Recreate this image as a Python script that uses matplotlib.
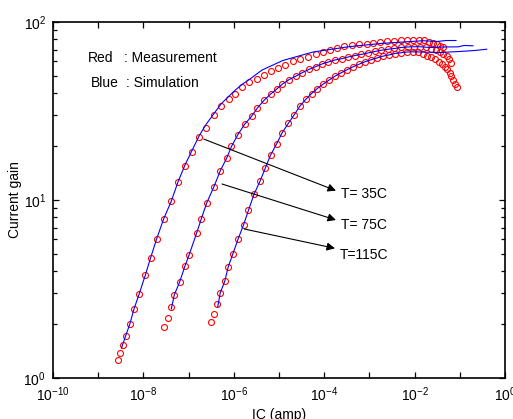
import matplotlib
matplotlib.use("Agg")
import matplotlib.pyplot as plt
from matplotlib.ticker import FixedLocator, FuncFormatter, LogLocator, NullFormatter
import numpy as np

plt.rcParams['font.family'] = ['Liberation Sans', 'DejaVu Sans']
plt.rcParams['mathtext.fontset'] = 'custom'
plt.rcParams['mathtext.rm'] = 'Liberation Sans'
plt.rcParams['mathtext.it'] = 'Liberation Sans'
plt.rcParams['mathtext.default'] = 'regular'
plt.rcParams['font.size'] = 10

# T = 35C  measurement (red circles)
ic_35 = [2.74e-9, 3.08e-9, 3.45e-9, 4.06e-9, 5.0e-9, 6.14e-9, 8.07e-9, 1.10e-8, 1.45e-8,
         1.97e-8, 2.82e-8, 4.14e-8, 5.82e-8, 8.32e-8, 1.19e-7, 1.73e-7, 2.39e-7, 3.65e-7,
         5.21e-7, 7.71e-7, 1.05e-6, 1.53e-6, 2.22e-6, 3.26e-6, 4.77e-6, 6.82e-6, 9.75e-6,
         1.39e-5, 2.04e-5, 2.99e-5, 4.39e-5, 6.43e-5, 9.40e-5, 1.34e-4, 1.95e-4, 2.81e-4,
         4.06e-4, 5.89e-4, 8.63e-4, 1.23e-3, 1.76e-3, 2.51e-3, 3.50e-3, 4.88e-3, 6.79e-3,
         9.23e-3, 1.25e-2, 1.61e-2, 2.09e-2, 2.55e-2, 3.13e-2, 3.74e-2, 4.35e-2]
gain_35 = [1.27, 1.373, 1.527, 1.728, 2.005, 2.426, 2.965, 3.776, 4.75,
           6.06, 7.85, 9.85, 12.57, 15.58, 18.6, 22.5, 25.5, 29.9,
           33.7, 37.0, 39.6, 42.9, 45.8, 48.0, 50.7, 53.0, 55.5,
           57.7, 60.0, 61.7, 63.8, 66.1, 67.8, 69.8, 71.7, 73.0,
           74.0, 74.8, 75.7, 76.5, 77.2, 78.0, 78.5, 79.0, 79.4,
           79.7, 79.7, 78.9, 77.7, 76.2, 74.8, 73.3, 71.9]

# T = 75C  measurement
ic_75 = [2.86e-8, 3.54e-8, 4.14e-8, 4.83e-8, 6.30e-8, 8.32e-8, 1.02e-7, 1.50e-7, 1.91e-7,
         2.53e-7, 3.65e-7, 5.02e-7, 6.97e-7, 8.89e-7, 1.22e-6, 1.73e-6, 2.49e-6, 3.34e-6,
         4.66e-6, 6.49e-6, 8.81e-6, 1.19e-5, 1.66e-5, 2.38e-5, 3.31e-5, 4.61e-5, 6.43e-5,
         8.93e-5, 1.24e-4, 1.73e-4, 2.44e-4, 3.41e-4, 4.80e-4, 6.68e-4, 9.31e-4, 1.33e-3,
         1.85e-3, 2.58e-3, 3.59e-3, 5.0e-3, 6.97e-3, 9.71e-3, 1.32e-2, 1.79e-2, 2.31e-2,
         2.97e-2, 3.65e-2, 4.35e-2, 5.08e-2, 5.77e-2, 6.38e-2]
gain_75 = [1.93, 2.18, 2.50, 2.93, 3.45, 4.26, 4.89, 6.50, 7.84,
           9.66, 11.9, 14.6, 17.2, 20.0, 23.2, 26.6, 29.6, 32.9,
           36.3, 39.3, 41.9, 44.8, 47.4, 49.7, 52.0, 54.2, 56.1,
           58.1, 59.6, 61.2, 62.2, 63.6, 64.8, 65.8, 67.0, 68.3,
           69.4, 70.3, 71.0, 71.9, 72.4, 72.6, 72.6, 71.9, 70.8,
           69.3, 67.8, 66.1, 64.0, 61.6, 59.2]

# T = 115C  measurement
ic_115 = [3.13e-7, 3.65e-7, 4.30e-7, 5.02e-7, 6.32e-7, 7.55e-7, 9.51e-7, 1.24e-6, 1.64e-6,
          2.11e-6, 2.80e-6, 3.80e-6, 5.02e-6, 6.49e-6, 8.89e-6, 1.18e-5, 1.60e-5, 2.17e-5,
          2.87e-5, 3.90e-5, 5.24e-5, 7.03e-5, 9.40e-5, 1.28e-4, 1.73e-4, 2.36e-4, 3.19e-4,
          4.34e-4, 5.89e-4, 8.0e-4, 1.08e-3, 1.47e-3, 2.0e-3, 2.72e-3, 3.68e-3, 5.0e-3,
          6.79e-3, 9.23e-3, 1.19e-2, 1.50e-2, 1.88e-2, 2.31e-2, 2.82e-2, 3.38e-2, 3.94e-2,
          4.59e-2, 5.21e-2, 5.92e-2, 6.55e-2, 7.14e-2, 7.84e-2, 8.67e-2]
gain_115 = [2.06, 2.30, 2.59, 3.01, 3.50, 4.22, 4.97, 6.02, 7.24,
            8.75, 10.76, 12.74, 15.19, 17.85, 20.7, 23.9, 26.9, 30.1,
            33.6, 36.7, 39.6, 42.3, 44.7, 47.2, 49.6, 51.8, 53.9,
            56.0, 57.9, 59.8, 61.3, 62.8, 64.3, 65.3, 66.5, 67.2,
            67.8, 68.0, 67.4, 66.1, 64.7, 63.2, 61.6, 59.8, 58.1,
            56.1, 54.1, 51.9, 49.7, 47.5, 45.1, 42.9]

# simulation (blue lines)
sim_ic_35 = [3.28e-9, 4.06e-9, 5.0e-9, 6.14e-9, 8.07e-9, 1.10e-8, 1.45e-8, 1.97e-8, 2.82e-8,
             4.14e-8, 5.82e-8, 8.32e-8, 1.19e-7, 1.73e-7, 2.39e-7, 3.65e-7, 5.21e-7, 7.71e-7,
             1.05e-6, 1.52e-6, 2.28e-6, 3.10e-6, 4.21e-6, 1.22e-5, 5.65e-5, 3.72e-4, 2.0e-3,
             1.53e-2, 3.13e-2, 4.95e-2, 8.24e-2]
sim_gain_35 = [1.474, 1.728, 2.005, 2.426, 2.965, 3.776, 4.75, 6.06, 7.85,
               9.85, 12.62, 15.73, 18.97, 23.04, 26.4, 30.6, 34.6, 38.2,
               41.2, 44.6, 47.8, 50.7, 53.7, 60.8, 67.8, 72.8, 75.9,
               78.5, 77.7, 78.7, 78.7]

sim_ic_75 = [4.14e-8] + ic_75[3:43] + [2.19e-2, 4.71e-2, 9.12e-2, 0.124, 0.196]
sim_gain_75 = [2.44] + gain_75[3:43] + [71.9, 72.4, 72.5, 73.8, 73.5]

sim_ic_115 = [4.41e-7] + ic_115[3:38] + [3.65e-2, 0.101, 0.217, 0.394]
sim_gain_115 = [2.51] + gain_115[3:38] + [67.4, 68.3, 69.2, 70.3]

labels = ['T= 35C', 'T= 75C', 'T=115C']
arrow_from = [(2.16e-7, 22.0), (5.48e-7, 12.3), (1.71e-6, 6.87)]
arrow_to = [(1.82e-4, 11.28), (1.82e-4, 7.72), (1.73e-4, 5.35)]
label_at = [(2.36e-4, 10.8), (2.36e-4, 7.24), (2.24e-4, 4.91)]

fig = plt.figure(figsize=(5.13, 4.19), dpi=100)
ax = fig.add_axes([0.1033, 0.0979, 0.8811, 0.8496])

for ic, g in [(sim_ic_35, sim_gain_35), (sim_ic_75, sim_gain_75), (sim_ic_115, sim_gain_115)]:
    ax.plot(ic, g, color='blue', lw=0.8, zorder=3)
for ic, g in [(ic_35, gain_35), (ic_75, gain_75), (ic_115, gain_115)]:
    ax.plot(ic, g, 'o', mfc='none', mec='red', ms=4.3, mew=0.8, zorder=2)

ax.set_xscale('log')
ax.set_yscale('log')
ax.set_xlim(1e-10, 1)
ax.set_ylim(1, 100)

# ticks
ax.xaxis.set_major_locator(FixedLocator([10.0 ** k for k in range(-10, 1)]))
ax.xaxis.set_minor_locator(FixedLocator([]))
ax.xaxis.set_major_formatter(FuncFormatter(
    lambda v, p: '$10^{%d}$' % round(np.log10(v)) if round(np.log10(v)) % 2 == 0 else ''))
ax.yaxis.set_major_locator(FixedLocator([1, 10, 100]))
ax.yaxis.set_minor_locator(LogLocator(base=10, subs=np.arange(2, 10)))
ax.yaxis.set_minor_formatter(NullFormatter())
ax.yaxis.set_major_formatter(FuncFormatter(lambda v, p: '$10^{%d}$' % round(np.log10(v))))
ax.tick_params(which='both', direction='in', top=True, right=True, labelsize=10, width=0.9)
ax.tick_params(which='major', length=4, pad=5)
ax.tick_params(which='minor', length=3)
for s in ax.spines.values():
    s.set_linewidth(1.2)

ax.set_xlabel('IC (amp)', fontsize=10, labelpad=3)
ax.set_ylabel('Current gain', fontsize=10, labelpad=1)

ax.text(0.077, 0.90, 'Red', transform=ax.transAxes, fontsize=10, va='center')
ax.text(0.157, 0.90, ': Measurement', transform=ax.transAxes, fontsize=10, va='center')
ax.text(0.084, 0.829, 'Blue', transform=ax.transAxes, fontsize=10, va='center')
ax.text(0.162, 0.829, ': Simulation', transform=ax.transAxes, fontsize=10, va='center')

for lab, a, b, t in zip(labels, arrow_from, arrow_to, label_at):
    ax.annotate('', xy=b, xytext=a,
                arrowprops=dict(arrowstyle='-|>', color='black', lw=0.8,
                                mutation_scale=12, shrinkA=0, shrinkB=0))
    ax.text(t[0], t[1], lab, fontsize=10, va='center', ha='left')

fig.savefig('out.png', dpi=100)
